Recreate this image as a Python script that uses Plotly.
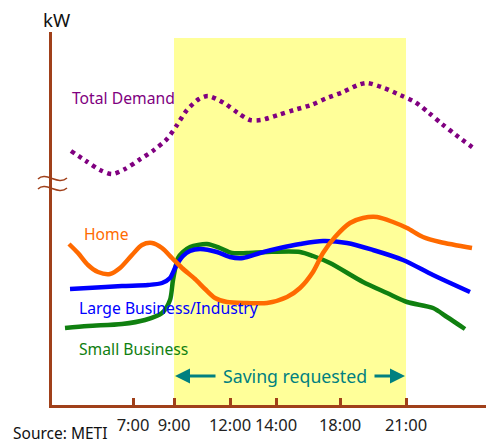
import plotly.graph_objects as go

# ---- data (schematic kW index vs. time position) ----
td_x = [71, 86, 100, 112, 125, 139, 154, 167, 177, 187, 199, 208, 224, 238, 250, 261, 278, 294, 311, 327, 343, 358, 367, 384, 400, 415, 429, 442, 456, 476]
td_y = [254, 244, 235, 231, 236, 245, 255, 266, 280, 295, 306, 309, 302, 292, 285, 285, 290, 295, 300, 307, 313, 320, 322, 317, 310, 303, 292, 281, 270, 255]

home_x = [69, 78, 88, 98, 110, 120, 132, 142, 152, 162, 172, 182, 195, 205, 215, 227, 247, 267, 287, 300, 313, 323, 335, 350, 363, 377, 393, 407, 423, 440, 472]
home_y = [161, 152, 140, 133, 131, 137, 150, 160, 162, 157, 147, 137, 126, 116, 107, 103, 102, 102, 108, 117, 133, 152, 168, 182, 187, 188, 183, 177, 168, 163, 157]

large_x = [70, 88, 122, 148, 162, 170, 176, 183, 190, 200, 217, 230, 243, 260, 280, 300, 323, 347, 373, 403, 433, 470]
large_y = [116, 117, 119, 120, 122, 127, 139, 149, 154, 156, 153, 148, 147, 152, 157, 161, 164, 162, 155, 145, 130, 113]

small_x = [65, 88, 122, 145, 162, 170, 173, 178, 183, 190, 207, 220, 232, 247, 267, 300, 313, 330, 363, 387, 407, 433, 447, 465]
small_y = [77, 79, 81, 85, 92, 105, 125, 147, 153, 158, 161, 157, 152, 152, 153, 153, 149, 142, 123, 112, 103, 97, 88, 76]

tick_pos = [133, 174, 230, 276, 340, 406]
tick_labels = ["7:00", "9:00", "12:00", "14:00", "18:00", "21:00"]

saving_start, saving_end = 174, 406

AXIS = "#A0401A"
FONT = "Noto Sans"

fig = go.Figure()

fig.add_shape(type="rect", xref="x", yref="y", x0=saving_start, x1=saving_end,
              y0=0, y1=367, fillcolor="#FFFF99", line_width=0, layer="below")

def line(x, y, color, dash="solid", width=4.5):
    fig.add_trace(go.Scatter(x=x, y=y, mode="lines",
                             line=dict(color=color, width=width, dash=dash,
                                       shape="spline", smoothing=0.8),
                             hoverinfo="skip", showlegend=False))

line(small_x, small_y, "#108010")
line(large_x, large_y, "#0000FF")
line(home_x, home_y, "#FF6A00")
line(td_x, td_y, "#800080", dash="4px,4.5px", width=4.5)

ann = []
def label(text, x, y, color, size=15.7):
    ann.append(dict(text=text, x=x, y=y, xref="x", yref="y", xanchor="left",
                    yanchor="middle", showarrow=False,
                    font=dict(color=color, size=size, family=FONT)))

label("Total Demand", 70, 307, "#800080")
label("Home", 82, 171, "#FF6A00")
label("Large Business/Industry", 77, 97, "#0000FF")
label("Small Business", 77, 56, "#108010")

ann.append(dict(text="Saving requested", x=295, y=29,
                xref="x", yref="y", showarrow=False,
                font=dict(color="#008080", size=17.7, family=FONT)))
ann.append(dict(text="", x=saving_start + 1, y=29, ax=217, ay=29, xref="x", yref="y",
                axref="x", ayref="y", showarrow=True, arrowhead=2, arrowsize=1,
                arrowwidth=3, arrowcolor="#008080"))
ann.append(dict(text="", x=saving_end - 1, y=29, ax=373, ay=29, xref="x", yref="y",
                axref="x", ayref="y", showarrow=True, arrowhead=2, arrowsize=1,
                arrowwidth=3, arrowcolor="#008080"))

ann.append(dict(text="kW", x=(56 - 52) / 442, y=(405 - 20) / 373, xref="paper", yref="paper",
                xanchor="center", yanchor="middle",
                showarrow=False, font=dict(color="#111111", size=18.5, family=FONT)))
ann.append(dict(text="Source: METI", x=-41 / 442, y=-(433 - 405) / 373, xref="paper", yref="paper",
                xanchor="left", yanchor="middle", showarrow=False,
                font=dict(color="#111111", size=15.5, family=FONT)))

fig.update_layout(annotations=ann)

# axis break symbol (paper coords)
def px(x):
    return (x - 52) / 442
def py(y):
    return (405 - y) / 373
for yb in (179, 189):
    path = (f"M {px(38)},{py(yb)} C {px(46)},{py(yb - 8)} {px(58)},{py(yb + 7)} {px(67)},{py(yb - 1)}")
    fig.add_shape(type="path", xref="paper", yref="paper", path=path,
                  line=dict(color=AXIS, width=1.5))

# page body has an 8px margin: figure is 486x436 so that it ends at the window edge
fig.update_layout(
    width=486, height=436,
    margin=dict(l=44, r=0, t=24, b=39),
    plot_bgcolor="white", paper_bgcolor="white",
    xaxis=dict(range=[52, 494], showgrid=False, zeroline=False, showline=True,
               linecolor=AXIS, linewidth=3, ticks="inside", ticklen=7, tickwidth=2.5,
               tickcolor=AXIS, tickvals=tick_pos, ticktext=tick_labels,
               tickfont=dict(size=16.5, color="#222222", family=FONT), ticklabelstandoff=3),
    yaxis=dict(range=[0, 373], showgrid=False, zeroline=False, showline=True,
               linecolor=AXIS, linewidth=3, showticklabels=False, ticks=""),
)

fig.write_html("out.html")
